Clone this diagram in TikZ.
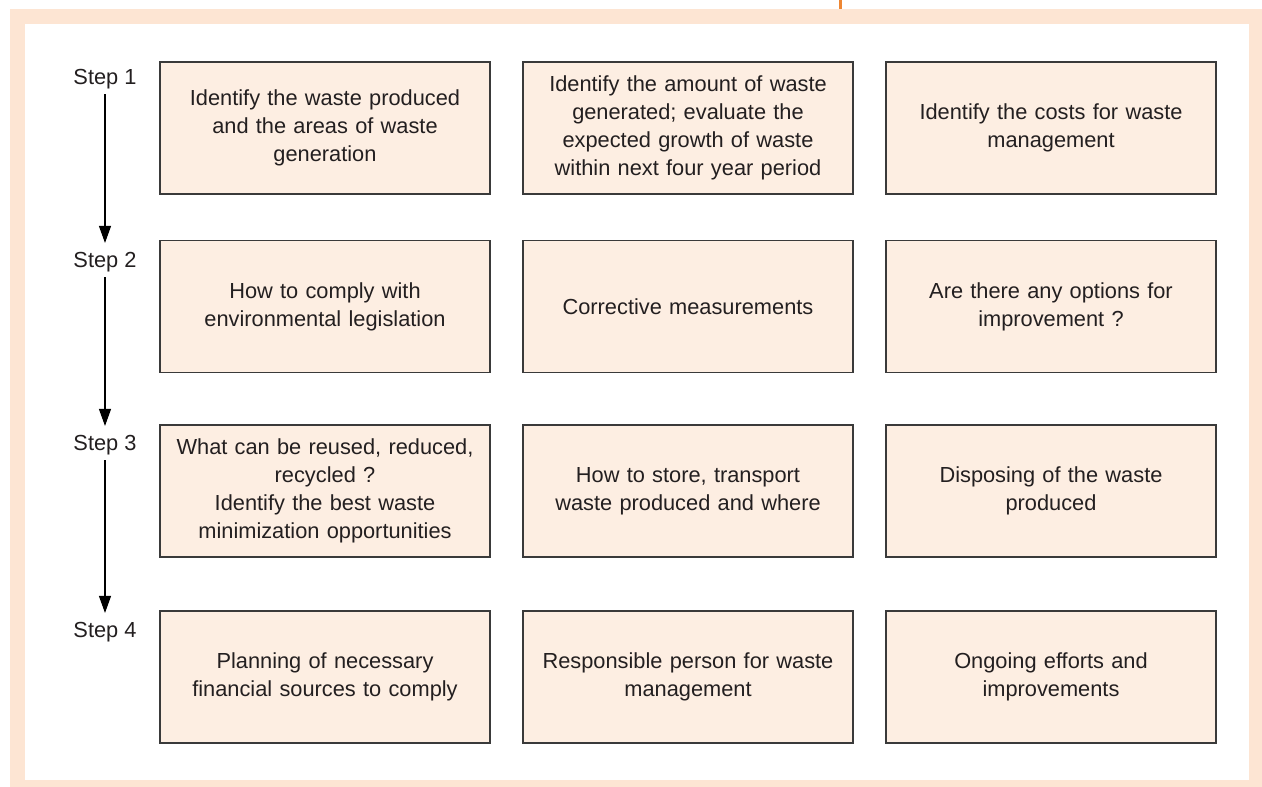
\documentclass[tikz,border=0pt]{standalone}
\usepackage{fontspec}
\setmainfont{Liberation Sans}
\usetikzlibrary{arrows.meta}
\definecolor{framec}{HTML}{FDE5D3}
\definecolor{boxfill}{HTML}{FDEEE2}
\definecolor{boxline}{HTML}{3A3A3A}
\definecolor{tick}{HTML}{EE8632}
\definecolor{txt}{HTML}{231F20}
\begin{document}
\begin{tikzpicture}[x=1pt,y=-1pt,
  wbox/.style={draw=boxline, fill=boxfill, line width=1.4pt, minimum width=330pt, minimum height=132pt,
    text width=322pt, align=center, inner sep=0pt, text=txt,
    font=\fontsize{21.8}{28}\selectfont},
  steplbl/.style={text=txt, font=\fontsize{21.8}{24}\selectfont, inner sep=2pt},
  stepar/.style={-{Triangle[length=17pt,width=12pt]}, line width=1.1pt, black}]
\useasboundingbox (0,0) rectangle (1262,787);
\fill[framec] (10,9) rectangle (1262,787);
\fill[white] (25,24) rectangle (1249,780);
\draw[tick, line width=3pt] (840,0) -- (840,9);
% row 1
\node[wbox] (a1) at (325,128) {Identify the waste produced\\and the areas of waste\\generation};
\node[wbox] (b1) at (688,128) {Identify the amount of waste\\generated; evaluate the\\expected growth of waste\\within next four year period};
\node[wbox] (c1) at (1051,128) {Identify the costs for waste\\management};
% row 2
\node[wbox] (a2) at (325,306.5) {How to comply with\\environmental legislation};
\node[wbox] (b2) at (688,306.5) {Corrective measurements};
\node[wbox] (c2) at (1051,306.5) {Are there any options for\\improvement ?};
% row 3
\node[wbox] (a3) at (325,491) {What can be reused, reduced,\\recycled ?\\Identify the best waste\\minimization opportunities};
\node[wbox] (b3) at (688,491) {How to store, transport\\waste produced and where};
\node[wbox] (c3) at (1051,491) {Disposing of the waste\\produced};
% row 4
\node[wbox] (a4) at (325,677) {Planning of necessary\\financial sources to comply};
\node[wbox] (b4) at (688,677) {Responsible person for waste\\management};
\node[wbox] (c4) at (1051,677) {Ongoing efforts and\\improvements};
% steps
\node[steplbl] (s1) at (105,79) {Step 1};
\node[steplbl] (s2) at (105,262) {Step 2};
\node[steplbl] (s3) at (105,445) {Step 3};
\node[steplbl] (s4) at (105,632) {Step 4};
\draw[stepar] ([yshift=-3pt]s1.south) -- ([yshift=7pt]s2.north);
\draw[stepar] ([yshift=-3pt]s2.south) -- ([yshift=7pt]s3.north);
\draw[stepar] ([yshift=-3pt]s3.south) -- ([yshift=7pt]s4.north);
\end{tikzpicture}
\end{document}
